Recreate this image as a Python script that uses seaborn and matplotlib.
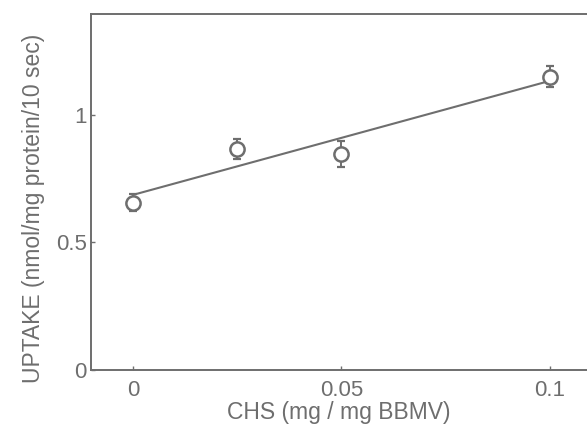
import matplotlib
matplotlib.use("Agg")
import matplotlib.pyplot as plt
import seaborn as sns
import pandas as pd

# Data
chs = [0.0, 0.025, 0.05, 0.1]
uptake = [0.656, 0.865, 0.847, 1.150]
uptake_err = [0.034, 0.040, 0.050, 0.040]
fit_x = [0.0, 0.1]
fit_y = [0.686, 1.133]
xticks = [0, 0.05, 0.1]
xtick_labels = ["0", "0.05", "0.1"]
yticks = [0, 0.5, 1]
ytick_labels = ["0", "0.5", "1"]

sns.set_theme(style="white")
plt.rcParams["font.family"] = ["Liberation Sans", "DejaVu Sans"]

gray = "#6e6e6e"
df = pd.DataFrame({"CHS": chs, "UPTAKE": uptake})
fit = pd.DataFrame({"CHS": fit_x, "UPTAKE": fit_y})

fig = plt.figure(figsize=(5.87, 4.24), dpi=100)
ax = fig.add_axes([0.1545, 0.1274, 0.8455, 0.8396])

sns.lineplot(data=fit, x="CHS", y="UPTAKE", ax=ax, color=gray, linewidth=1.5, zorder=2)
ax.errorbar(chs, uptake, yerr=uptake_err, fmt="none", ecolor=gray,
            elinewidth=1.4, capsize=3.2, capthick=1.6, zorder=3)
sns.scatterplot(data=df, x="CHS", y="UPTAKE", ax=ax, marker="o", s=105,
                facecolor="white", edgecolor=gray, linewidth=1.8, zorder=4)

ax.set_xlim(-0.0101, 0.1089)
ax.set_ylim(0, 1.395)
ax.set_xticks(xticks)
ax.set_xticklabels(xtick_labels)
ax.set_yticks(yticks)
ax.set_yticklabels(ytick_labels)

ax.tick_params(axis="both", direction="in", length=3, width=1, color=gray,
               labelcolor=gray, labelsize=16)
ax.tick_params(axis="x", pad=7)
ax.tick_params(axis="y", pad=3)
ax.tick_params(left=True, bottom=True)

for side in ["left", "bottom", "top"]:
    ax.spines[side].set_color(gray)
    ax.spines[side].set_linewidth(1.4)
ax.spines["right"].set_visible(False)

ax.set_xlabel("CHS (mg / mg BBMV)", fontsize=16.5, color=gray, labelpad=0)
ax.set_ylabel("UPTAKE (nmol/mg protein/10 sec)", fontsize=16.5, color=gray)
ax.yaxis.set_label_coords(-0.092, 0.455)

fig.savefig("out.png", dpi=100)
